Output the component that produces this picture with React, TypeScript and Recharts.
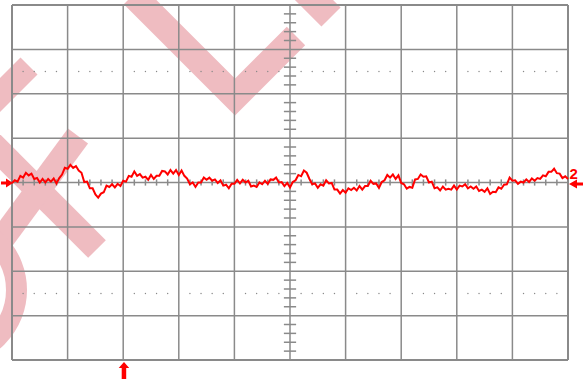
import { LineChart, Line, XAxis, YAxis, ReferenceLine, ReferenceDot } from "recharts";

// scope screen: 10 x 8 divisions, channel 2 trace in divisions (ground = 0)
const X_DIVS = [0, 1, 2, 3, 4, 5, 6, 7, 8, 9, 10];
const Y_DIVS = [-4, -3, -2, -1, 0, 1, 2, 3, 4];
const DOT_ROWS = [2.5, -2.5];
const SAMPLE_STEP = 0.05;
const TRIGGER_POS = 2;
const CH2_GROUND = 0;
const CH2_LABEL = "2";

const CH2_TRACE = [
  -0.01, 0.05, 0.02, 0.15, 0.11, 0.22, 0.16, 0.2, 0.08, 0.1,
  0.0, 0.08, 0.0, 0.08, 0.02, 0.09, -0.02, 0.1, 0.18, 0.33,
  0.31, 0.4, 0.33, 0.37, 0.27, 0.22, 0.01, 0.02, -0.13, -0.13,
  -0.27, -0.34, -0.25, -0.22, -0.07, -0.1, -0.04, -0.11, -0.03, -0.08,
  0.04, 0.02, 0.15, 0.13, 0.25, 0.15, 0.19, 0.11, 0.13, 0.06,
  0.17, 0.08, 0.15, 0.15, 0.26, 0.25, 0.18, 0.28, 0.2, 0.28,
  0.17, 0.27, 0.15, 0.09, -0.04, 0.0, -0.1, 0.0, 0.0, 0.11,
  0.06, 0.11, 0.04, 0.07, -0.01, 0.05, -0.07, -0.05, -0.13, -0.03,
  -0.03, 0.06, -0.02, 0.06, 0.0, 0.04, -0.09, -0.07, -0.1, 0.0,
  -0.04, 0.04, -0.03, 0.07, 0.06, 0.11, 0.0, 0.01, -0.08, -0.01,
  -0.11, 0.01, 0.05, 0.17, 0.14, 0.27, 0.22, 0.08, -0.04, -0.02,
  -0.12, -0.04, -0.07, 0.05, -0.02, -0.01, -0.16, -0.16, -0.25, -0.17,
  -0.23, -0.13, -0.17, -0.12, -0.18, -0.08, -0.16, -0.08, -0.08, 0.04,
  -0.03, -0.02, -0.12, 0.01, 0.05, 0.17, 0.11, 0.18, 0.08, 0.16,
  -0.01, -0.04, -0.14, -0.1, -0.12, 0.07, 0.08, 0.18, 0.13, 0.14,
  0.0, 0.02, -0.13, -0.11, -0.18, -0.09, -0.16, -0.14, -0.16, -0.07,
  -0.16, -0.07, -0.09, -0.04, -0.13, -0.09, -0.14, -0.09, -0.19, -0.16,
  -0.21, -0.13, -0.26, -0.21, -0.22, -0.11, -0.14, -0.05, -0.04, 0.11,
  0.04, 0.05, -0.03, 0.02, 0.0, 0.07, 0.01, 0.09, 0.04, 0.1,
  0.08, 0.16, 0.14, 0.24, 0.24, 0.31, 0.21, 0.2, 0.1, 0.14,
  0.08,
];

const W = 583;
const H = 379;
const GRID = "#8a8a8a";
const RED = "#ff0000";

const data = CH2_TRACE.map((v, i) => ({ t: i * SAMPLE_STEP, v }));

// minor ticks every 1/5 division (skip the major lines)
const minorX: number[] = [];
for (let i = 0; i <= 50; i++) if (i % 5 !== 0) minorX.push(i / 5);
const minorY: number[] = [];
for (let i = -20; i <= 20; i++) if (i % 5 !== 0) minorY.push(i / 5);

const Watermark = () => (
  <svg width={W} height={H} style={{ position: "absolute", left: 0, top: 0 }}>
    <g opacity={0.38} stroke="#d6505f" fill="none" strokeLinecap="butt" strokeLinejoin="miter">
      <polyline points="133,-5 235,97 296,36" strokeWidth={26} />
      <line x1={300} y1={-14} x2={331} y2={17} strokeWidth={27} />
      <line x1={29} y1={66} x2={-20} y2={115} strokeWidth={24} />
      <line x1={-20} y1={132} x2={97} y2={249} strokeWidth={25} />
      <line x1={78} y1={136} x2={-15} y2={262} strokeWidth={25} />
      <circle cx={-50} cy={290} r={66.5} strokeWidth={21} />
    </g>
  </svg>
);

const App = () => {
  return (
    <div style={{ position: "fixed", left: 0, top: 0, width: W, height: H, background: "#fff" }}>
      <Watermark />
      <div style={{ position: "absolute", left: 0, top: 0 }}>
        <LineChart width={W} height={H} data={data} margin={{ top: 5, right: 15, bottom: 19, left: 12 }}>
          <XAxis dataKey="t" type="number" domain={[0, 10]} hide />
          <YAxis type="number" domain={[-4, 4]} hide />
          {X_DIVS.map((x) => (
            <ReferenceLine key={"gx" + x} x={x} stroke={GRID} strokeWidth={x === 0 || x === 10 ? 2 : 1.5} />
          ))}
          {Y_DIVS.map((y) => (
            <ReferenceLine key={"gy" + y} y={y} stroke={GRID} strokeWidth={y === -4 || y === 4 ? 2 : 1.5} />
          ))}
          {minorX.map((x) => (
            <ReferenceLine
              key={"tx" + x}
              segment={[{ x, y: -0.07 }, { x, y: 0.07 }]}
              stroke={GRID}
              strokeWidth={1.5}
            />
          ))}
          {minorY.map((y) => (
            <ReferenceLine
              key={"ty" + y}
              segment={[{ x: 4.89, y }, { x: 5.11, y }]}
              stroke={GRID}
              strokeWidth={1.5}
            />
          ))}
          {DOT_ROWS.map((row) =>
            minorX.map((x) => (
              <ReferenceDot key={"d" + row + x} x={x} y={row} r={0.7} fill="#888" stroke="none" />
            ))
          )}
          <Line
            type="linear"
            dataKey="v"
            stroke={RED}
            strokeWidth={2}
            dot={false}
            isAnimationActive={false}
          />
          {/* ground marker, left */}
          <ReferenceDot
            x={0}
            y={CH2_GROUND}
            ifOverflow="visible"
            shape={(p: any) => (
              <polygon
                fill={RED}
                points={`${p.cx - 11},${p.cy - 1} ${p.cx - 6},${p.cy - 1} ${p.cx - 6},${p.cy - 4} ${p.cx + 1},${p.cy + 0.5} ${p.cx - 6},${p.cy + 5} ${p.cx - 6},${p.cy + 2} ${p.cx - 11},${p.cy + 2}`}
              />
            )}
          />
          {/* channel label + marker, right */}
          <ReferenceDot
            x={10}
            y={CH2_GROUND}
            ifOverflow="visible"
            shape={(p: any) => (
              <g>
                <text
                  x={p.cx + 1.5}
                  y={p.cy - 4}
                  fill={RED}
                  fontSize={15}
                  fontWeight="bold"
                  fontFamily="Liberation Sans, Arial, sans-serif"
                >
                  {CH2_LABEL}
                </text>
                <polygon
                  fill={RED}
                  points={`${p.cx + 1},${p.cy + 1.5} ${p.cx + 9},${p.cy - 3} ${p.cx + 9},${p.cy} ${p.cx + 15},${p.cy} ${p.cx + 15},${p.cy + 3} ${p.cx + 9},${p.cy + 3} ${p.cx + 9},${p.cy + 6}`}
                />
              </g>
            )}
          />
          {/* trigger position, bottom */}
          <ReferenceDot
            x={TRIGGER_POS}
            y={-4}
            ifOverflow="visible"
            shape={(p: any) => (
              <polygon
                fill={RED}
                points={`${p.cx + 0.8},${p.cy + 2} ${p.cx + 6},${p.cy + 8} ${p.cx + 3},${p.cy + 8} ${p.cx + 3},${p.cy + 19} ${p.cx - 1.5},${p.cy + 19} ${p.cx - 1.5},${p.cy + 8} ${p.cx - 4.5},${p.cy + 8}`}
              />
            )}
          />
        </LineChart>
      </div>
    </div>
  );
};

export default App;
